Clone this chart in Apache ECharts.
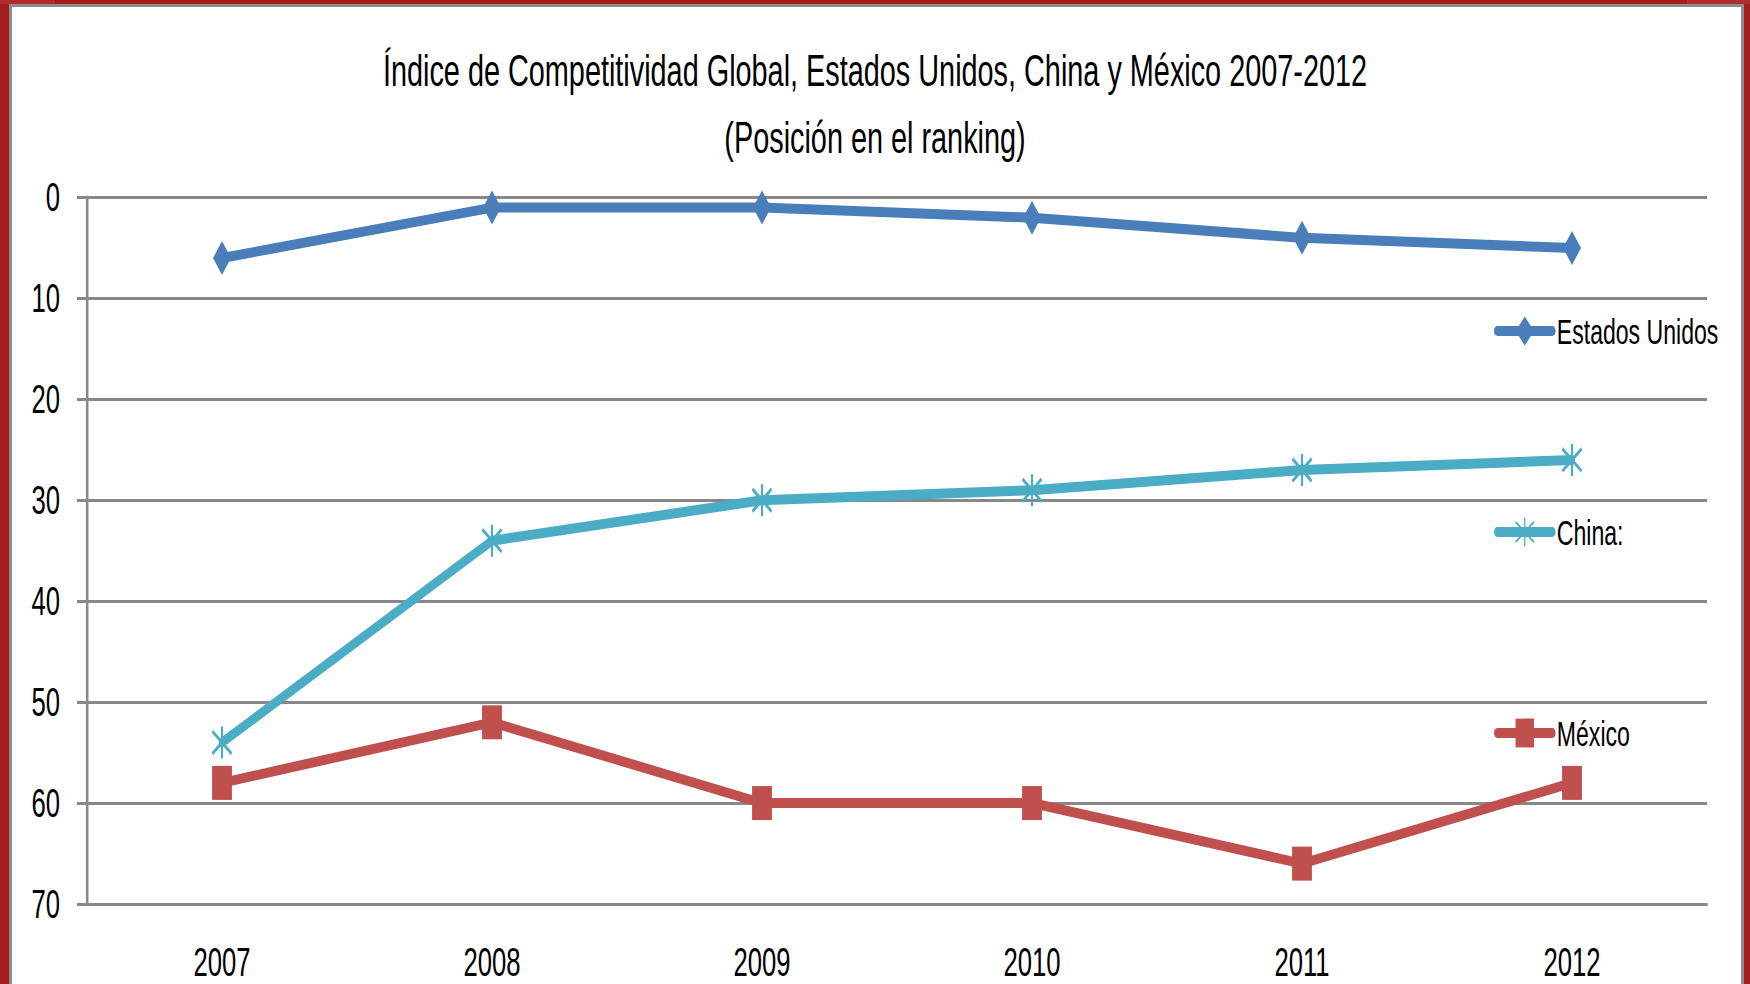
<!DOCTYPE html>
<html>
<head>
<meta charset="utf-8">
<script src="https://cdn.jsdelivr.net/npm/echarts@6/dist/echarts.min.js"></script>
<style>
html,body{margin:0;padding:0;width:1750px;height:984px;overflow:hidden;background:#A51C1C;}
#wrap{position:absolute;left:0;top:0;width:1750px;height:984px;overflow:hidden;background:#A51C1C;}
.patch{position:absolute;background:#B02D2D;}
#panel{position:absolute;left:9px;top:4px;width:1729px;height:1000px;background:#fff;border:3px solid #8C8C8C;border-bottom:none;}
#chart{position:absolute;left:0;top:0;width:2730px;height:984px;transform:scaleX(0.641026);transform-origin:0 0;}
</style>
</head>
<body>
<div id="wrap">
  <div class="patch" style="left:0;top:0;width:55px;height:4px;"></div>
  <div class="patch" style="left:1687px;top:0;width:63px;height:4px;"></div>
  <div id="panel"></div>
  <div id="chart"></div>
</div>
<script>
// ---- data ----
const years = ['2007', '2008', '2009', '2010', '2011', '2012'];
const estadosUnidos = [6, 1, 1, 2, 4, 5];
const china = [54, 34, 30, 29, 27, 26];
const mexico = [58, 52, 60, 60, 66, 58];
const seriesNames = ['Estados Unidos', 'China:', 'México'];
const yMin = 0, yMax = 70, yStep = 10;

// ---- layout (chart is drawn 1.56x wider, then squeezed by CSS) ----
const SX = 1.56;
const FONT = "'Liberation Sans', Arial, sans-serif";
const blue = '#4A7EBB', cyan = '#4BACC6', red = '#C0504D', grid = '#888888';

const chart = echarts.init(document.getElementById('chart'), null, {renderer: 'svg', width: 2730, height: 984});

function legendFor(name, centerY) {
  return {
    data: [name],
    orient: 'vertical',
    left: 1494 * SX,
    top: centerY - 18,
    padding: 0,
    itemWidth: 86,
    itemHeight: 36,
    itemGap: 0,
    selectedMode: false,
    lineStyle: {width: 10, cap: 'round'},
    textStyle: {fontFamily: FONT, fontSize: 36, lineHeight: 36, color: '#000', padding: [0, 0, 0, 2]}
  };
}

chart.setOption({
  animation: false,
  textStyle: {fontFamily: FONT},
  title: {
    text: 'Índice de Competitividad Global, Estados Unidos, China y México 2007-2012\n(Posición en el ranking)',
    left: 'center',
    top: 37,
    padding: 0,
    textStyle: {fontFamily: FONT, fontSize: 45, fontWeight: 'normal', lineHeight: 67, color: '#000'}
  },
  legend: [
    legendFor(seriesNames[0], 331),
    legendFor(seriesNames[1], 532),
    legendFor(seriesNames[2], 733)
  ],
  grid: {left: 87 * SX, right: 2730 - 1707 * SX, top: 197.5, bottom: 80},
  xAxis: {
    type: 'category',
    data: years,
    boundaryGap: true,
    axisLine: {show: true, onZero: false, lineStyle: {color: grid, width: 3}},
    axisTick: {show: false},
    axisLabel: {fontFamily: FONT, fontSize: 40, color: '#000', margin: 38},
    splitLine: {show: false}
  },
  yAxis: {
    type: 'value',
    inverse: true,
    min: yMin,
    max: yMax,
    interval: yStep,
    axisLine: {show: true, lineStyle: {color: grid, width: 4}},
    axisTick: {show: true, length: 15.6, lineStyle: {color: grid, width: 3}},
    axisLabel: {fontFamily: FONT, fontSize: 40, color: '#000', margin: 42},
    splitLine: {show: true, lineStyle: {color: grid, width: 3}}
  },
  series: [
    {
      name: seriesNames[0], type: 'line', data: estadosUnidos,
      symbol: 'diamond', symbolSize: [28, 34],
      lineStyle: {color: blue, width: 10, cap: 'round', join: 'round'},
      itemStyle: {color: blue},
      emphasis: {disabled: true}
    },
    {
      name: seriesNames[1], type: 'line', data: china,
      symbol: 'path://M10,0L10,20M1,3L19,17M19,3L1,17', symbolSize: [30, 32],
      lineStyle: {color: cyan, width: 10, cap: 'round', join: 'round'},
      itemStyle: {color: cyan, borderColor: cyan, borderWidth: 3.5},
      emphasis: {disabled: true}
    },
    {
      name: seriesNames[2], type: 'line', data: mexico,
      symbol: 'rect', symbolSize: [31, 34],
      lineStyle: {color: red, width: 10, cap: 'round', join: 'round'},
      itemStyle: {color: red},
      emphasis: {disabled: true}
    }
  ]
});
</script>
</body>
</html>
